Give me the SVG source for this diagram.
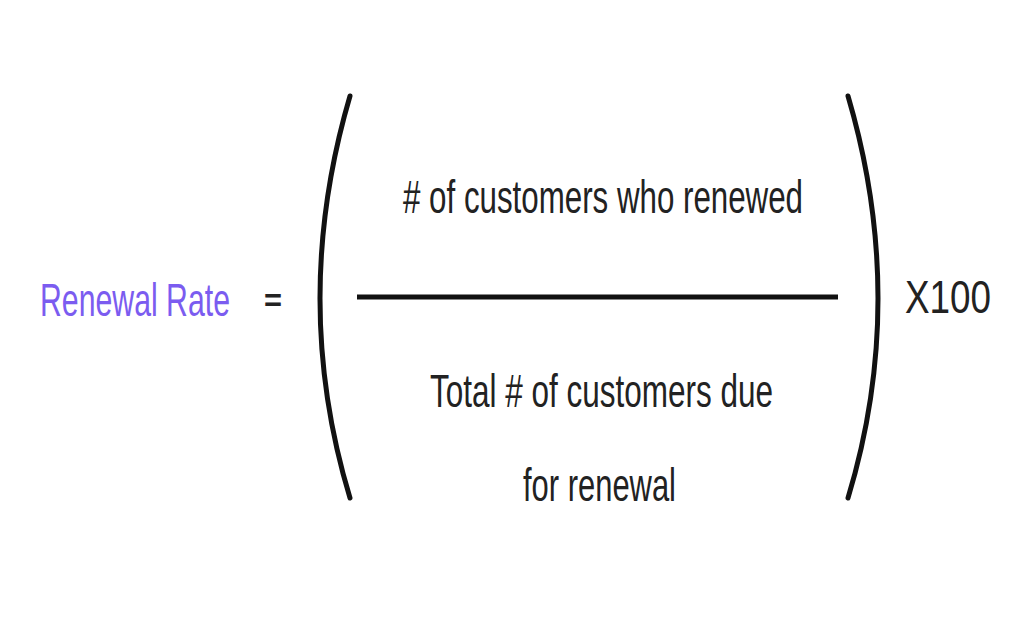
<svg xmlns="http://www.w3.org/2000/svg" width="1024" height="630" viewBox="0 0 1024 630">
<style>
.t{font-family:"Liberation Sans",Arial,sans-serif;font-size:46px;fill:#222}
.p{fill:none;stroke:#111;stroke-width:5;stroke-linecap:round}
</style>
<rect width="1024" height="630" fill="#fff"/>
<text class="t" x="40" y="316" textLength="190" lengthAdjust="spacingAndGlyphs" style="fill:#7b5cf0">Renewal Rate</text>
<text class="t" x="264" y="311" textLength="18" lengthAdjust="spacingAndGlyphs" style="font-size:32px;font-weight:bold">=</text>
<path class="p" d="M350 96 Q290 300 350 498"/>
<path class="p" d="M848 96 Q908 300 848 498"/>
<text class="t" x="403" y="213" textLength="400" lengthAdjust="spacingAndGlyphs"># of customers who renewed</text>
<line x1="357" y1="297" x2="838" y2="297" stroke="#111" stroke-width="5"/>
<text class="t" x="430" y="407" textLength="343" lengthAdjust="spacingAndGlyphs">Total # of customers due</text>
<text class="t" x="523" y="501" textLength="153" lengthAdjust="spacingAndGlyphs">for renewal</text>
<text class="t" x="905" y="313" textLength="86" lengthAdjust="spacingAndGlyphs">X100</text>
</svg>
